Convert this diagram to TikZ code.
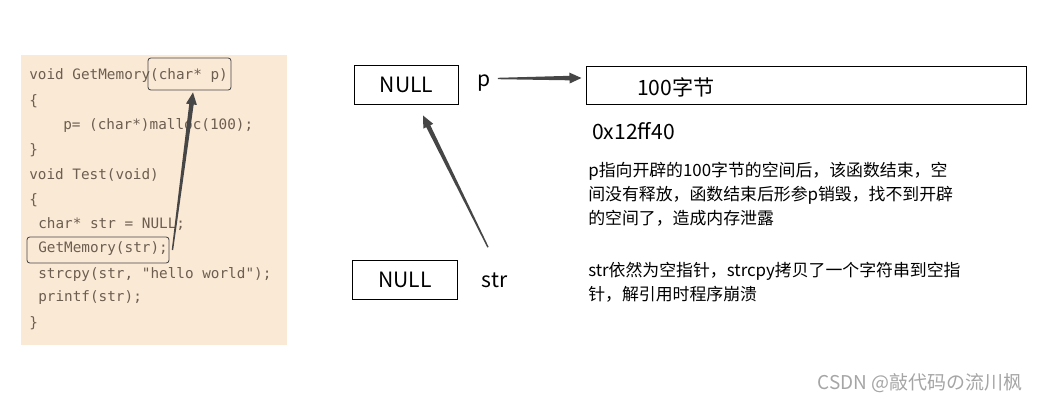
\documentclass[tikz,border=0pt]{standalone}
\usepackage{fontspec}
\setmainfont{Noto Sans CJK SC}
\setmonofont{DejaVu Sans Mono}
\usetikzlibrary{calc}

\definecolor{panelbg}{RGB}{250,233,213}
\definecolor{codegray}{RGB}{108,94,80}
\definecolor{arrowgray}{RGB}{70,70,70}
\definecolor{markgray}{RGB}{165,165,165}

% tapered arrow: #1 = tail, #2 = tip
\newcommand{\taperarrow}[2]{%
  \coordinate (hb) at ($(#2)!8.5pt!(#1)$);
  \fill[arrowgray] ($(#1)!0.5pt!90:(#2)$) -- ($(hb)!1.6pt!90:(#2)$)
    -- ($(hb)!3.9pt!90:(#2)$) -- (#2) -- ($(hb)!3.9pt!-90:(#2)$)
    -- ($(hb)!1.6pt!-90:(#2)$) -- ($(#1)!0.5pt!-90:(#2)$) -- cycle;
}

\begin{document}
\begin{tikzpicture}[x=0.025cm, y=-0.025cm,
  codeline/.style={anchor=west, inner sep=0pt, text=codegray,
    font=\ttfamily\fontsize{10.2}{12}\selectfont},
  codebox/.style={draw=arrowgray, rounded corners=2pt, line width=0.6pt},
  cellbox/.style={draw, line width=0.7pt, inner sep=0pt,
    font=\fontsize{15}{18}\selectfont},
  label/.style={inner sep=0pt, font=\fontsize{15}{18}\selectfont},
  note/.style={anchor=north west, align=left, inner sep=0pt,
    font=\fontsize{12}{17.1}\selectfont}]

  \useasboundingbox (0,0) rectangle (1038,401);

  % code panel
  \fill[panelbg] (21,55) rectangle (287,345);

  \node [codeline] (l1) at (29,76) {void GetMemory(char* p)};
  \node [codeline] (l2) at (29,101) {\{};
  \node [codeline] (l3) at (63,126) {p= (char*)malloc(100);};
  \node [codeline] (l4) at (29,150) {\}};
  \node [codeline] (l5) at (29,175) {void Test(void)};
  \node [codeline] (l6) at (29,200) {\{};
  \node [codeline] (l7) at (38,224) {char* str = NULL;};
  \node [codeline] (l8) at (38,249) {GetMemory(str);};
  \node [codeline] (l9) at (38,274) {strcpy(str, "hello world");};
  \node [codeline] (l10) at (38,298) {printf(str);};
  \node [codeline] (l11) at (29,323) {\}};

  \node [codebox, minimum width=2.075cm, minimum height=0.8cm] (argbox) at (189.5,74) {};
  \node [codebox, minimum width=3.55cm, minimum height=0.65cm] (callbox) at (98,250) {};

  \taperarrow{$(callbox.east)+(3,0)$}{$(argbox.south)+(3.5,2)$}

  % memory picture
  \node [cellbox, minimum width=2.575cm, minimum height=0.975cm] (pnull) at (406.5,84.5) {NULL};
  \node [cellbox, minimum width=2.6cm, minimum height=0.975cm] (strnull) at (405,279.5) {NULL};
  \node [label] (pname) at (484,83.5) {p};
  \node [label] (sname) at (494.5,280) {str};

  \node [cellbox, minimum width=10.975cm, minimum height=0.95cm] (mem) at (806.5,85) {};
  \node [label, anchor=west] (memtext) at (637,87) {100字节};
  \node [label, anchor=west] (addr) at (592,131) {0x12ff40};

  \taperarrow{$(pname.east)+(7,-5)$}{$(mem.west)+(-5,-7)$}
  \taperarrow{$(sname.north)+(-6.5,-25)$}{$(pnull.south)+(16.5,11)$}

  \node [note] (leaknote) at (588,161.5) {p指向开辟的100字节的空间后，该函数结束，空\\间没有释放，函数结束后形参p销毁，找不到开辟\\的空间了，造成内存泄露};
  \node [note] (crashnote) at (588,261.5) {str依然为空指针，strcpy拷贝了一个字符串到空指\\针，解引用时程序崩溃};

  \node [anchor=east, inner sep=0pt, text=markgray, font=\fontsize{13.5}{16}\selectfont] (mark) at (1023,383) {CSDN @敲代码の流川枫};

\end{tikzpicture}
\end{document}
